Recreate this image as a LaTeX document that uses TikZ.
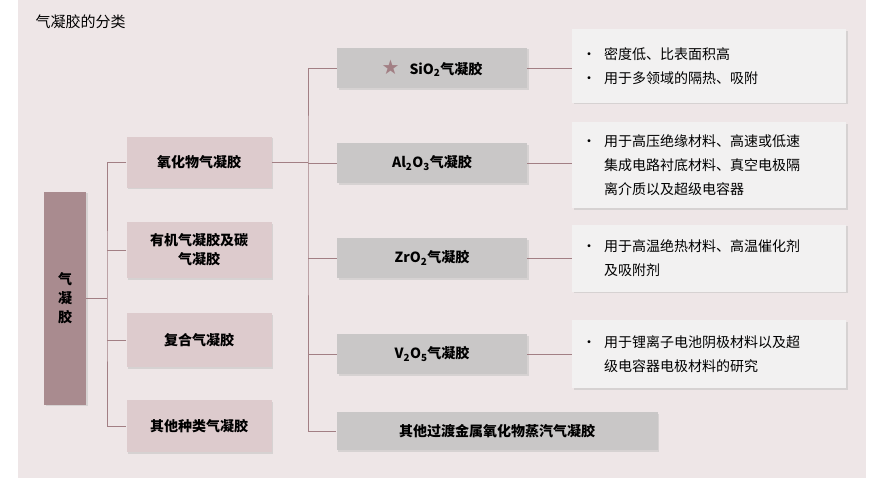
\documentclass[tikz,border=0pt]{standalone}
\usepackage{fontspec}
\setmainfont{Liberation Sans}
\newfontfamily\cjk{Noto Sans CJK SC}
\newfontfamily\sym{DejaVu Sans}
\usetikzlibrary{positioning, shadows, calc}
\definecolor{panelbg}{HTML}{EEE6E7}
\definecolor{rootfill}{HTML}{A98B8F}
\definecolor{catfill}{HTML}{DDCBCD}
\definecolor{subfill}{HTML}{C9C7C7}
\definecolor{notefill}{HTML}{F2F1F1}
\definecolor{linkcol}{HTML}{A27F84}
\newcommand{\bul}{\makebox[22pt][l]{\textbullet}}
\newcommand{\ind}{\hspace*{22pt}}
\tikzset{
    box/.style={draw=none, drop shadow={shadow xshift=1.5pt, shadow yshift=-1.5pt, fill=black!25}, align=center, font=\cjk\bfseries\fontsize{14}{19}\selectfont, inner sep=0pt},
    rootbox/.style={box, fill=rootfill, minimum width=42pt, minimum height=213pt},
    catbox/.style={box, fill=catfill, minimum width=145pt},
    subbox/.style={box, fill=subfill, minimum width=190pt, minimum height=40pt},
    notebox/.style={box, fill=notefill, minimum width=274pt, align=left, font=\cjk\fontsize{14}{24}\selectfont, text width=254pt},
    link/.style={draw=linkcol, line width=0.6pt},
}
\begin{document}
\begin{tikzpicture}[x=1pt, y=-1pt]
    \useasboundingbox (0,0) rectangle (880,487);
    \fill[panelbg] (18,0) rectangle (866,478);
    \node[anchor=west, font=\cjk\fontsize{15}{17}\selectfont] (title) at (32,22) {气凝胶的分类};

    % root and categories
    \node[rootbox] (root) at (65,298) {气\\凝\\胶};
    \node[catbox, minimum height=51pt] (oxide) at (199,162) {氧化物气凝胶};
    \node[catbox, minimum height=56pt] (organic) at (199,250) {有机气凝胶及碳\\气凝胶};
    \node[catbox, minimum height=54pt] (composite) at (199,340) {复合气凝胶};
    \node[catbox, minimum height=52pt] (others) at (199,426) {其他种类气凝胶};

    % oxide types
    \node[subbox] (sio) at (432,68) {\textcolor{linkcol}{\sym\fontsize{20}{20}\selectfont ★}\hspace{10pt}SiO\textsubscript{2}气凝胶};
    \node[subbox] (alo) at (432,163) {Al\textsubscript{2}O\textsubscript{3}气凝胶};
    \node[subbox] (zro) at (432,258) {ZrO\textsubscript{2}气凝胶};
    \node[subbox] (vo) at (432,354) {V\textsubscript{2}O\textsubscript{5}气凝胶};
    \node[box, fill=subfill, minimum width=321pt, minimum height=38pt] (vapor) at (497,431) {其他过渡金属氧化物蒸汽气凝胶};

    % notes
    \node[notebox, minimum height=73pt] (nsio) at (709,66) {\bul 密度低、比表面积高\\\bul 用于多领域的隔热、吸附};
    \node[notebox, minimum height=86pt] (nalo) at (709,165) {\bul 用于高压绝缘材料、高速或低速\\\ind 集成电路衬底材料、真空电极隔\\\ind 离介质以及超级电容器};
    \node[notebox, minimum height=67pt] (nzro) at (709,258) {\bul 用于高温绝热材料、高温催化剂\\\ind 及吸附剂};
    \node[notebox, minimum height=68pt] (nvo) at (709,354) {\bul 用于锂离子电池阴极材料以及超\\\ind 级电容器电极材料的研究};

    % connectors
    \draw[link] (root.east) -- (107,298);
    \draw[link] (oxide.west) -| (107,298) |- (others.west);
    \draw[link] (organic.west) -- (107,250);
    \draw[link] (composite.west) -- (107,340);
    \draw[link] (oxide.east) -- (308,162);
    \draw[link] (sio.west) -| (308,162) |- (vapor.west);
    \draw[link] (alo.west) -- (308,163);
    \draw[link] (zro.west) -- (308,258);
    \draw[link] (vo.west) -- (308,354);
    \draw[link] (sio.east) -- (nsio.west |- sio.east);
    \draw[link] (alo.east) -- (nalo.west |- alo.east);
    \draw[link] (zro.east) -- (nzro.west |- zro.east);
    \draw[link] (vo.east) -- (nvo.west |- vo.east);
\end{tikzpicture}
\end{document}
